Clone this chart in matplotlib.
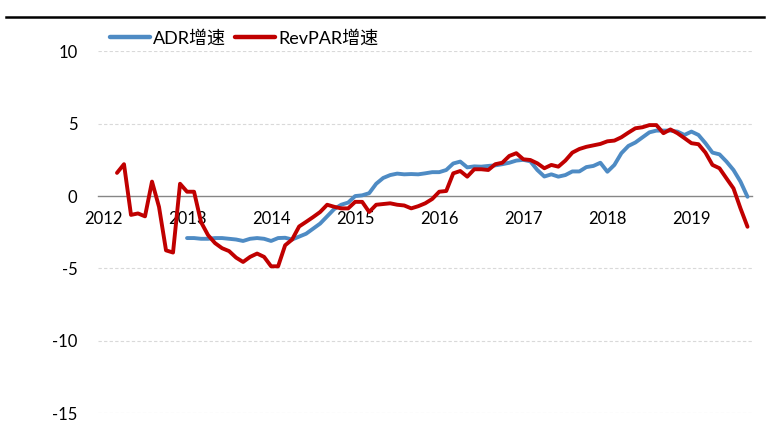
import matplotlib
matplotlib.use('Agg')
import matplotlib.pyplot as plt

plt.rcParams['font.family'] = ['Lato', 'Noto Sans CJK SC', 'DejaVu Sans']
plt.rcParams['axes.unicode_minus'] = False

# monthly index, 0 = Jan 2012
years = ['2012', '2013', '2014', '2015', '2016', '2017', '2018', '2019']

adr_start = 12
adr = [-2.9, -2.9, -2.95, -2.95, -2.9, -2.9, -2.95, -3.0, -3.1, -2.95,
       -2.9, -2.95, -3.1, -2.9, -2.88, -3.0, -2.8, -2.6, -2.25, -1.9,
       -1.4, -0.9, -0.6, -0.45, 0.0, 0.05, 0.2, 0.85, 1.25, 1.45,
       1.55, 1.5, 1.52, 1.5, 1.57, 1.65, 1.65, 1.8, 2.25, 2.38,
       1.98, 2.05, 2.03, 2.08, 2.12, 2.2, 2.3, 2.45, 2.5, 2.4,
       1.8, 1.35, 1.5, 1.34, 1.45, 1.7, 1.7, 2.0, 2.08, 2.3,
       1.68, 2.15, 2.96, 3.46, 3.7, 4.05, 4.4, 4.52, 4.52, 4.52,
       4.45, 4.22, 4.45, 4.22, 3.65, 3.0, 2.88, 2.38, 1.8, 1.0,
       -0.05]

revpar_start = 2
revpar = [1.6, 2.2, -1.3, -1.2, -1.4, 1.0, -0.75, -3.75, -3.9, 0.85,
          0.3, 0.3, -1.8, -2.7, -3.25, -3.6, -3.8, -4.25, -4.55, -4.2,
          -3.97, -4.2, -4.85, -4.85, -3.4, -3.0, -2.1, -1.78, -1.45, -1.1,
          -0.6, -0.74, -0.85, -0.85, -0.4, -0.4, -1.1, -0.6, -0.55, -0.5,
          -0.6, -0.65, -0.85, -0.7, -0.5, -0.2, 0.3, 0.35, 1.57, 1.73,
          1.34, 1.85, 1.85, 1.8, 2.2, 2.3, 2.77, 2.96, 2.54, 2.49,
          2.26, 1.92, 2.15, 2.03, 2.45, 3.0, 3.25, 3.4, 3.5, 3.6,
          3.78, 3.83, 4.06, 4.38, 4.68, 4.75, 4.9, 4.9, 4.34, 4.6,
          4.34, 4.0, 3.65, 3.58, 3.0, 2.15, 1.92, 1.22, 0.53, -0.85,
          -2.12]

adr_x = list(range(adr_start, adr_start + len(adr)))
revpar_x = list(range(revpar_start, revpar_start + len(revpar)))

fig = plt.figure(figsize=(7.72, 4.22), dpi=100)

# black rule under the (cropped) title
fig.add_artist(plt.Line2D([0.008, 0.99], [0.96, 0.96], color='black', linewidth=1.8))

ax = fig.add_axes([0.1273, 0.0206, 0.8464, 0.858])

ax.plot(adr_x, adr, color='#4E8BC4', linewidth=2.8, label='ADR增速', solid_capstyle='round')
ax.plot(revpar_x, revpar, color='#C00000', linewidth=2.8, label='RevPAR增速', solid_capstyle='round')

ax.set_xlim(-0.67, 92.6)
ax.set_ylim(-15, 10)
ax.set_yticks([-15, -10, -5, 0, 5, 10])
ax.set_xticks([12 * k for k in range(len(years))])
ax.set_xticklabels(years)

for y in [-15, -10, -5, 5, 10]:
    ax.axhline(y, color='#D9D9D9', linewidth=0.8, linestyle=(0, (3, 2)), zorder=0)

for side in ['top', 'right', 'left']:
    ax.spines[side].set_visible(False)
ax.spines['bottom'].set_position(('data', 0))
ax.spines['bottom'].set_color('#868686')
ax.spines['bottom'].set_linewidth(1.0)
ax.spines['bottom'].set_zorder(1)

ax.tick_params(axis='x', length=0, pad=11, labelsize=12)
ax.tick_params(axis='y', length=0, pad=15, labelsize=12)

leg = ax.legend(loc='center left', bbox_to_anchor=(0.1425, 0.91), bbox_transform=fig.transFigure,
                ncol=2, frameon=False, fontsize=13, handlelength=2.2, handletextpad=0.2,
                columnspacing=0.5, borderaxespad=0, borderpad=0)
for line in leg.get_lines():
    line.set_linewidth(3.2)

plt.savefig('out.png', dpi=100)
